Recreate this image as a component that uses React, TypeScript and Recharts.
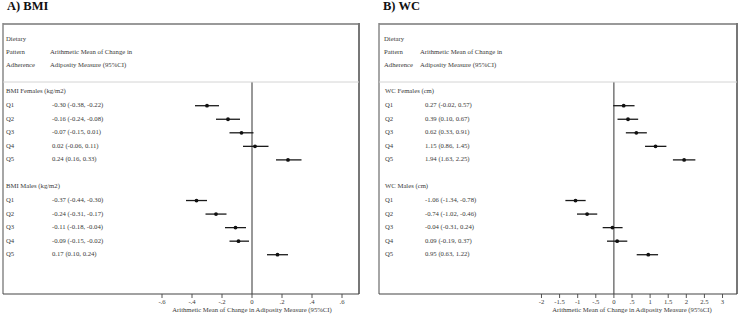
import React from 'react';
import { ScatterChart, Scatter, XAxis, YAxis, ErrorBar, ReferenceLine } from 'recharts';

const quintiles = ['Q1', 'Q2', 'Q3', 'Q4', 'Q5'];

const bmiFemaleMean = [-0.3, -0.16, -0.07, 0.02, 0.24];
const bmiFemaleLow = [-0.38, -0.24, -0.15, -0.06, 0.16];
const bmiFemaleHigh = [-0.22, -0.08, 0.01, 0.11, 0.33];
const bmiMaleMean = [-0.37, -0.24, -0.11, -0.09, 0.17];
const bmiMaleLow = [-0.44, -0.31, -0.18, -0.15, 0.1];
const bmiMaleHigh = [-0.3, -0.17, -0.04, -0.02, 0.24];

const wcFemaleMean = [0.27, 0.39, 0.62, 1.15, 1.94];
const wcFemaleLow = [-0.02, 0.1, 0.33, 0.86, 1.63];
const wcFemaleHigh = [0.57, 0.67, 0.91, 1.45, 2.25];
const wcMaleMean = [-1.06, -0.74, -0.04, 0.09, 0.95];
const wcMaleLow = [-1.34, -1.02, -0.31, -0.19, 0.63];
const wcMaleHigh = [-0.78, -0.46, 0.24, 0.37, 1.22];

const bmiTicks = [-0.6, -0.4, -0.2, 0, 0.2, 0.4, 0.6];
const wcTicks = [-2, -1.5, -1, -0.5, 0, 0.5, 1, 1.5, 2, 2.5, 3];

const FONT = '"Liberation Serif", "DejaVu Serif", serif';
const FS = 6.7;
const TXT = '#3a3a3a';
const AXIS_LABEL = 'Arithmetic Mean of Change in Adiposity Measure (95%CI)';

const fmt = (v: number) => v.toFixed(2);
const tickFmt = (v: number) => {
  if (v === 0) return '0';
  const s = String(Math.abs(v)).replace(/^0\./, '.');
  return (v < 0 ? '-' : '') + s;
};

type Row = { x: number; y: number; err: [number, number] };

function buildPanel(femaleTitle: string, maleTitle: string, fm: number[], fl: number[], fh: number[], mm: number[], ml: number[], mh: number[]) {
  const rows: Row[] = [];
  const labels: Record<number, { q?: string; text: string }> = {};
  labels[0] = { text: femaleTitle };
  labels[7] = { text: maleTitle };
  fm.forEach((m, i) => {
    rows.push({ x: m, y: 1 + i, err: [m - fl[i], fh[i] - m] });
    labels[1 + i] = { q: quintiles[i], text: `${fmt(m)} (${fmt(fl[i])}, ${fmt(fh[i])})` };
  });
  mm.forEach((m, i) => {
    rows.push({ x: m, y: 8 + i, err: [m - ml[i], mh[i] - m] });
    labels[8 + i] = { q: quintiles[i], text: `${fmt(m)} (${fmt(ml[i])}, ${fmt(mh[i])})` };
  });
  return { rows, labels };
}

const bmi = buildPanel('BMI Females (kg/m2)', 'BMI Males (kg/m2)', bmiFemaleMean, bmiFemaleLow, bmiFemaleHigh, bmiMaleMean, bmiMaleLow, bmiMaleHigh);
const wc = buildPanel('WC Females (cm)', 'WC Males (cm)', wcFemaleMean, wcFemaleLow, wcFemaleHigh, wcMaleMean, wcMaleLow, wcMaleHigh);
const rowTicks = [0, 1, 2, 3, 4, 5, 7, 8, 9, 10, 11, 12];

const Dot = (p: any) => <circle cx={p.cx} cy={p.cy} r={1.9} fill="#111" />;

type PanelProps = {
  left: number;
  width: number;
  yAxisWidth: number;
  rightMargin: number;
  domain: [number, number];
  ticks: number[];
  data: ReturnType<typeof buildPanel>;
  qX: number;
  valX: number;
};

const ForestPanel = ({ left, width, yAxisWidth, rightMargin, domain, ticks, data, qX, valX }: PanelProps) => {
  const renderRowTick = (p: any) => {
    const lab = data.labels[p.payload.value];
    if (!lab) return <g />;
    return (
      <g>
        {lab.q ? (
          <>
            <text x={qX} y={p.y} dominantBaseline="middle" fontSize={FS} fontFamily={FONT} fill={TXT}>{lab.q}</text>
            <text x={valX} y={p.y} dominantBaseline="middle" fontSize={FS} fontFamily={FONT} fill={TXT}>{lab.text}</text>
          </>
        ) : (
          <text x={qX} y={p.y - 1} dominantBaseline="middle" fontSize={FS} fontFamily={FONT} fill={TXT}>{lab.text}</text>
        )}
      </g>
    );
  };
  return (
    <div style={{ position: 'absolute', left, top: 24 }}>
      <ScatterChart width={width} height={293} margin={{ top: 58, right: rightMargin, bottom: 0, left: 0 }}>
        <XAxis
          type="number"
          dataKey="x"
          domain={domain}
          ticks={ticks}
          interval={0}
          allowDataOverflow
          axisLine={false}
          tickLine={{ stroke: '#555' }}
          tickSize={4}
          tickMargin={1}
          height={23}
          tickFormatter={tickFmt}
          tick={{ fontSize: FS, fontFamily: FONT, fill: TXT }}
          label={{ value: AXIS_LABEL, position: 'insideBottom', offset: 5, fontSize: FS, fontFamily: FONT, fill: TXT }}
        />
        <YAxis
          type="number"
          dataKey="y"
          domain={[-0.75, 14.9]}
          reversed
          allowDataOverflow
          ticks={rowTicks}
          interval={0}
          width={yAxisWidth}
          axisLine={false}
          tickLine={false}
          tick={renderRowTick}
        />
        <ReferenceLine x={0} stroke="#333" strokeWidth={1} />
        <Scatter data={data.rows} fill="#111" shape={Dot} isAnimationActive={false}>
          <ErrorBar dataKey="err" direction="x" width={0} stroke="#1a1a1a" strokeWidth={1.3} isAnimationActive={false} />
        </Scatter>
      </ScatterChart>
    </div>
  );
};

const Frame = ({ x1, x2, textX, headX, title }: { x1: number; x2: number; textX: number; headX: number; title: string }) => (
  <g fontFamily={FONT}>
    <text x={x1 + 4} y={10} fontSize={12.5} fontWeight="bold" fill="#111">{title}</text>
    <line x1={x1} y1={24} x2={x2} y2={24} stroke="#999" strokeWidth={2} />
    <line x1={x1} y1={23} x2={x1} y2={294} stroke="#888" strokeWidth={1.5} />
    <line x1={x2} y1={23} x2={x2} y2={294} stroke="#777" strokeWidth={2} />
    <line x1={x1} y1={294} x2={x2} y2={294} stroke="#444" strokeWidth={1.2} />
    <line x1={x1} y1={82} x2={x2} y2={82} stroke="#d4d4d4" strokeWidth={1} />
    <g fontSize={FS} fill={TXT} dominantBaseline="middle">
      <text x={textX} y={39}>Dietary</text>
      <text x={textX} y={52}>Pattern</text>
      <text x={textX} y={65}>Adherence</text>
      <text x={headX} y={52}>Arithmetic Mean of Change in</text>
      <text x={headX} y={65}>Adiposity Measure (95%CI)</text>
    </g>
  </g>
);

export default function App() {
  return (
    <div style={{ position: 'relative', width: 739, height: 317, background: '#fff', overflow: 'hidden' }}>
      <style>{`body{margin:0}`}</style>
      <ForestPanel left={3} width={356} yAxisWidth={144} rightMargin={2} domain={[-0.7, 0.7]} ticks={bmiTicks} data={bmi} qX={3} valX={49} />
      <ForestPanel left={379} width={358} yAxisWidth={148} rightMargin={0} domain={[-2.4, 3.4]} ticks={wcTicks} data={wc} qX={6} valX={46} />
      <svg width={739} height={317} style={{ position: 'absolute', left: 0, top: 0, pointerEvents: 'none' }}>
        <Frame x1={3} x2={359} textX={6} headX={50} title="A) BMI" />
        <Frame x1={379} x2={737} textX={384} headX={420} title="B) WC" />
      </svg>
    </div>
  );
}
